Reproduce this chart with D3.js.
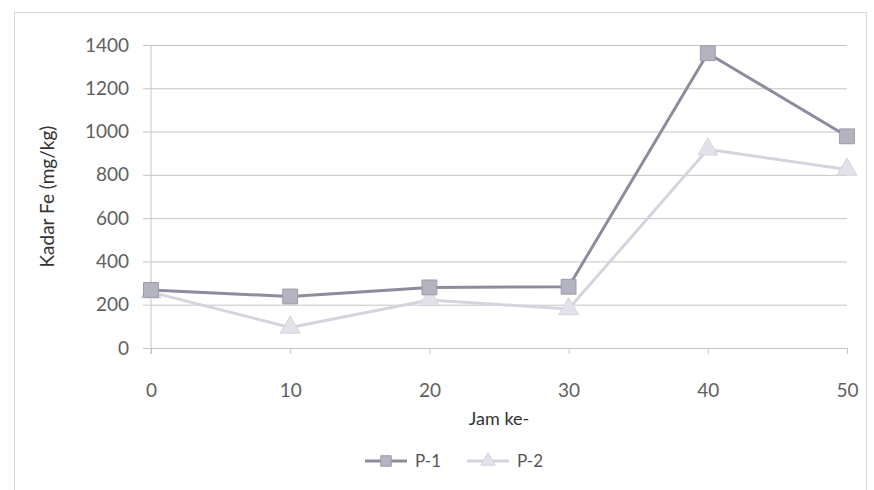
<!DOCTYPE html>
<html>
<head>
<meta charset="utf-8">
<script src="https://cdn.jsdelivr.net/npm/d3@7"></script>
<style>
  body { margin: 0; background: #fff; }
  svg text { font-family: Lato, "Open Sans", sans-serif; fill: #555; }
</style>
</head>
<body>
<svg id="chart" width="874" height="490"></svg>
<script>
// hours and Fe values
var hours = [0, 10, 20, 30, 40, 50];
var p1 = [268, 238, 280, 283, 1362, 978];
var p2 = [258, 95, 222, 180, 918, 825];
var yTicks = [0, 200, 400, 600, 800, 1000, 1200, 1400];
var seriesNames = ["P-1", "P-2"];

var svg = d3.select("#chart"),
  margin = { top: 45, left: 151, right: 27, bottom: 142 },
  width = 874 - margin.left - margin.right,
  height = 490 - margin.top - margin.bottom;

// outer chart frame
svg.append("rect")
  .attr("x", 14.5).attr("y", 12.5)
  .attr("width", 852).attr("height", 490)
  .attr("fill", "none")
  .attr("stroke", "#d8d8d8");

var x = d3.scaleLinear().domain([0, 50]).range([0, width]);
var y = d3.scaleLinear().domain([0, 1400]).range([height, 0]);

var g = svg.append("g")
  .attr("transform", "translate(" + margin.left + "," + margin.top + ")");

// gridlines + y axis
var yAxis = g.append("g")
  .call(d3.axisLeft(y).tickValues(yTicks).tickSize(8).tickPadding(14).tickFormat(d3.format("d")));
yAxis.select(".domain").remove();
yAxis.selectAll(".tick line").attr("stroke", "#c4c4c4").attr("x1", -8).attr("x2", width);
yAxis.selectAll("text").style("font-size", "19px").style("fill", "#606060");

var xAxis = g.append("g")
  .attr("transform", "translate(0," + height + ")")
  .call(d3.axisBottom(x).tickValues(hours).tickSize(6).tickPadding(30));
xAxis.select(".domain").remove();
xAxis.selectAll(".tick line").attr("stroke", "#c4c4c4");
xAxis.selectAll("text").style("font-size", "19px").style("fill", "#606060");

// vertical axis line
g.append("line")
  .attr("x1", 0).attr("x2", 0)
  .attr("y1", 0).attr("y2", height + 6)
  .attr("stroke", "#c4c4c4");

// axis titles
svg.append("text")
  .attr("transform", "translate(54," + (margin.top + height / 2) + ") rotate(-90)")
  .attr("text-anchor", "middle")
  .style("font-size", "19px")
  .style("fill", "#333")
  .text("Kadar Fe (mg/kg)");

svg.append("text")
  .attr("x", margin.left + width / 2)
  .attr("y", 425)
  .attr("text-anchor", "middle")
  .style("font-size", "18px")
  .style("fill", "#333")
  .text("Jam ke-");

var line = d3.line()
  .x(function(d, i) { return x(hours[i]); })
  .y(function(d) { return y(d); });

var styles = [
  { stroke: "#8c8c9e", fill: "#b4b4c0", mstroke: "#9a9aaa" },
  { stroke: "#d4d4de", fill: "#e2e2ea", mstroke: "#d4d4de" }
];

function drawSeries(data, s, marker) {
  g.append("path")
    .datum(data)
    .attr("fill", "none")
    .attr("stroke", styles[s].stroke)
    .attr("stroke-width", 3)
    .attr("d", line);
  g.selectAll(".m" + s)
    .data(data)
    .enter().append("path")
    .attr("class", "m" + s)
    .attr("transform", function(d, i) { return "translate(" + x(hours[i]) + "," + y(d) + ")"; })
    .attr("d", marker)
    .attr("fill", styles[s].fill)
    .attr("stroke", styles[s].mstroke)
    .attr("stroke-width", 1);
}

var square = d3.symbol().type(d3.symbolSquare).size(220)();
var triangle = d3.symbol().type(d3.symbolTriangle).size(170)();

drawSeries(p2, 1, triangle);
drawSeries(p1, 0, square);

// legend
var legend = svg.append("g").attr("transform", "translate(365,461)");
seriesNames.forEach(function(name, i) {
  var lg = legend.append("g").attr("transform", "translate(" + (i * 102) + ",0)");
  lg.append("line")
    .attr("x1", 0).attr("x2", 42)
    .attr("stroke", styles[i].stroke).attr("stroke-width", 3);
  lg.append("path")
    .attr("transform", "translate(21,0)")
    .attr("d", d3.symbol().type(i == 0 ? d3.symbolSquare : d3.symbolTriangle).size(i == 0 ? 110 : 90)())
    .attr("fill", styles[i].fill)
    .attr("stroke", styles[i].mstroke);
  lg.append("text")
    .attr("x", 50).attr("y", 6)
    .style("font-size", "17px")
    .style("fill", "#555")
    .text(name);
});
</script>
</body>
</html>
